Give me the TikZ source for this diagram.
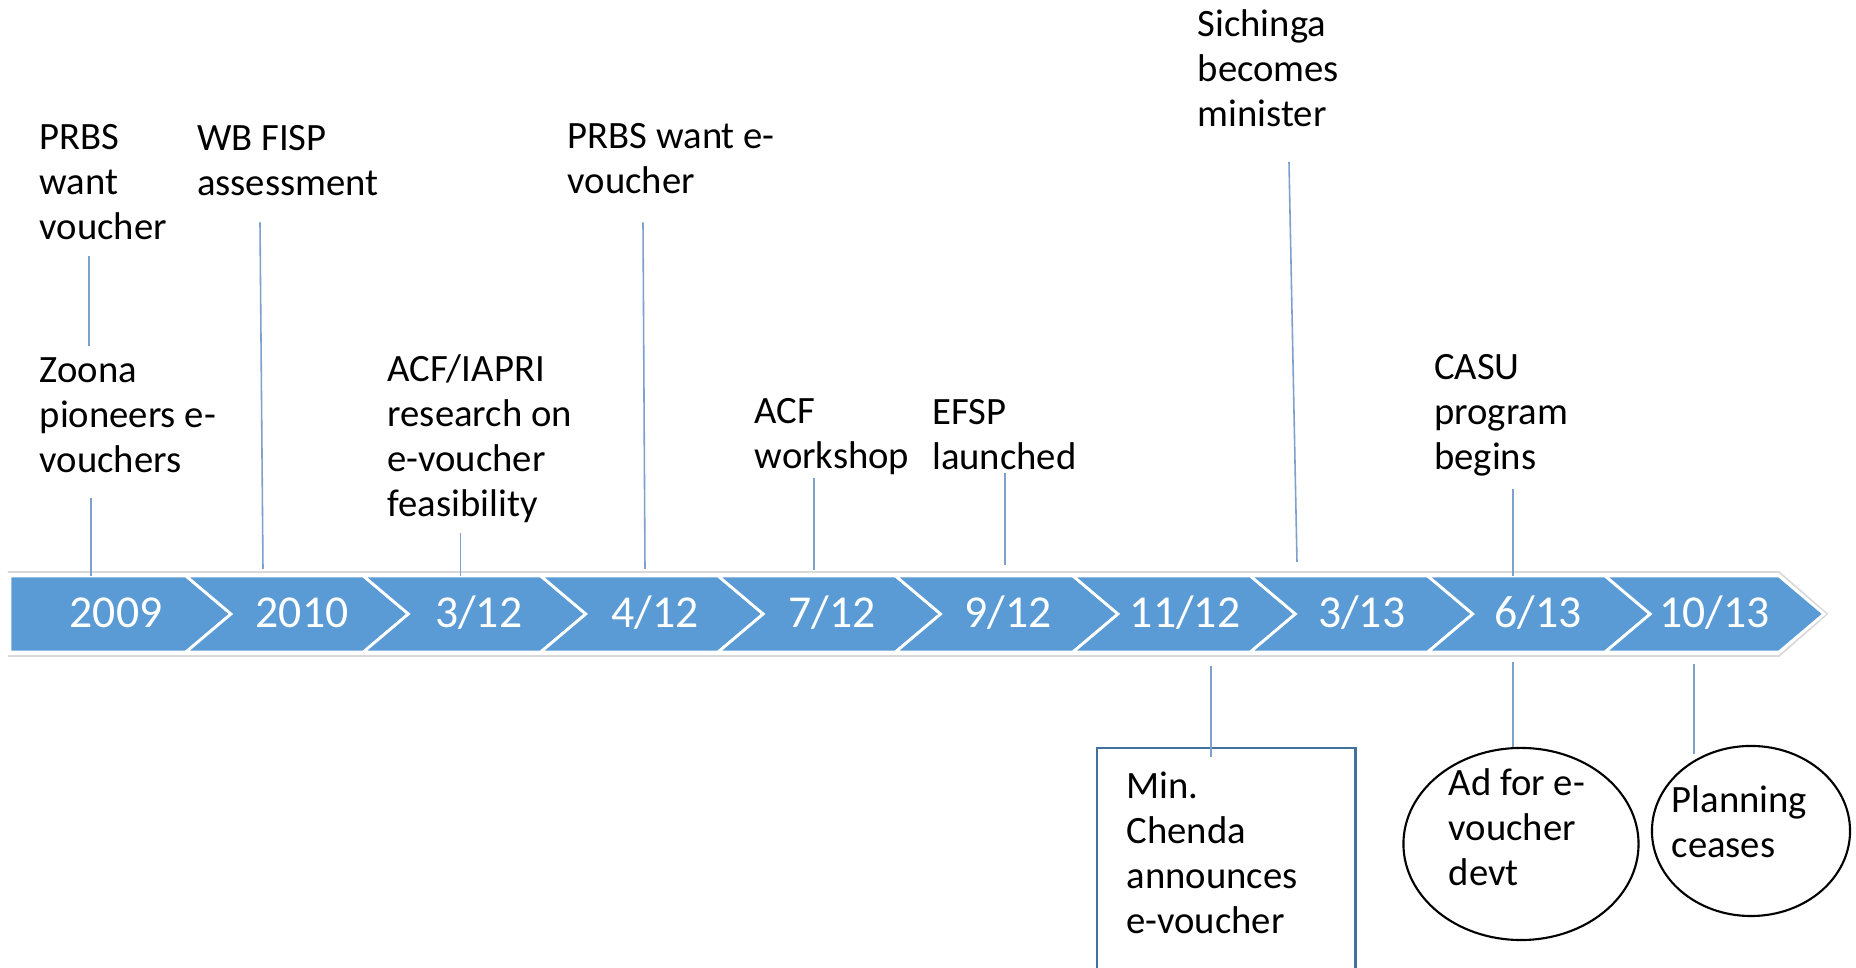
\documentclass[tikz,border=0pt]{standalone}
\usepackage{fontspec}
\setmainfont{Carlito}
\usepackage{tikz}
\usetikzlibrary{calc, shapes.geometric, positioning}
\definecolor{bandblue}{RGB}{91,155,213}
\definecolor{tickblue}{RGB}{125,160,205}
\definecolor{boxblue}{RGB}{65,113,156}
\begin{document}
\begin{tikzpicture}[
  x=0.01cm, y=-0.01cm,
  segment/.style={fill=bandblue, draw=white, line width=0.8pt, line join=miter},
  datelabel/.style={anchor=base, inner sep=0, text=white,
    font=\fontsize{13}{15}\selectfont},
  event/.style={anchor=north west, inner sep=0, align=left,
    font=\fontsize{11}{12.8}\selectfont, execute at begin node=\strut},
  tick/.style={draw=tickblue, line width=0.45pt},
  eventbox/.style={rectangle, draw=boxblue, line width=0.7pt, anchor=north west,
    minimum width=2.58cm, minimum height=3cm, inner sep=0},
  eventring/.style={ellipse, draw=black, line width=0.6pt, inner sep=0}
]
\useasboundingbox (0,0) rectangle (1856,968);

% ---- Band of dates ----
\draw[gray!30, line width=0.5pt] (8,572) -- (1779,572) -- (1827,614) -- (1779,656) -- (8,656);
\draw[segment] (10,576) -- (186,576) -- (231,614) -- (186,652) -- (10,652) -- cycle;
\foreach \k in {1,...,8}{
  \pgfmathsetmacro\xl{186+177.4*(\k-1)}
  \pgfmathsetmacro\xr{186+177.4*\k}
  \draw[segment] (\xl,576) -- (\xr,576) -- (\xr+45,614) -- (\xr,652)
    -- (\xl,652) -- (\xl+45,614) -- cycle;
}
\draw[segment] (1605.2,576) -- (1779,576) -- (1824,614) -- (1779,652)
  -- (1605.2,652) -- (1650.2,614) -- cycle;

\foreach \lbl [count=\k from 0] in {2009,2010,3/12,4/12,7/12,9/12,11/12,3/13,6/13,10/13}{
  \pgfmathsetmacro\xc{\k==0 ? 116 : 302+176.6*(\k-1)}
  \node[datelabel] (d\k) at (\xc,628) {\lbl};
}

% ---- Events above the band ----
\node[event] (prbs)     at (39,123.5)   {PRBS\\want\\voucher};
\node[event] (zoona)    at (39,356.5)   {Zoona\\pioneers e-\\vouchers};
\node[event] (wbfisp)   at (196.5,124.5) {WB FISP\\assessment};
\node[event] (acfiapri) at (387,353.5)  {ACF/IAPRI\\research on\\e-voucher\\feasibility};
\node[event] (prbsev)   at (567,122.5)  {PRBS want e-\\voucher};
\node[event] (acfws)    at (754,397.5)  {ACF\\workshop};
\node[event] (efsp)     at (931.5,398.5) {EFSP\\launched};
\node[event] (sichinga) at (1197,9)     {Sichinga\\becomes\\minister};
\node[event] (casu)     at (1433.5,353.5) {CASU\\program\\begins};

\draw[tick] ($(prbs.north west)+(50,132.5)$) -- ++(0,90);
\draw[tick] ($(zoona.north west)+(52,141.5)$) -- ++(0,78);
\draw[tick] ($(wbfisp.north west)+(63.5,98)$) -- ++(3,346.5);
\draw[tick] ($(acfiapri.north west)+(73.5,179.5)$) -- ++(0,43);
\draw[tick] ($(prbsev.north west)+(76,100)$) -- ++(2,346.5);
\draw[tick] ($(acfws.north west)+(60,80.5)$) -- ++(0,92.5);
\draw[tick] ($(efsp.north west)+(73.5,75)$) -- ++(0,91.5);
\draw[tick] ($(sichinga.north west)+(92,153)$) -- ++(8,400);
\draw[tick] ($(casu.north west)+(79.5,135.5)$) -- ++(0,87);

% ---- Events below the band ----
\node[eventbox] (minbox) at (1096,747) {};
\node[eventring, minimum width=2.35cm, minimum height=1.92cm] (adring) at (1521,844) {};
\node[eventring, minimum width=1.98cm, minimum height=1.70cm] (planring) at (1751,831) {};

\node[event] (chenda)   at (1126,771.5) {Min.\\Chenda\\announces\\e-voucher};
\node[event] (adfor)    at (1448,767.5) {Ad for e-\\voucher\\devt};
\node[event] (planning) at (1671,784.5) {Planning\\ceases};

\draw[tick] ($(minbox.north west)+(115,-81)$) -- ++(0,91.5);
\draw[tick] ($(adring.north)+(-8,-85)$) -- ++(0,85);
\draw[tick] ($(planring.north)+(-57,-81)$) -- ++(0,90);

\end{tikzpicture}
\end{document}
